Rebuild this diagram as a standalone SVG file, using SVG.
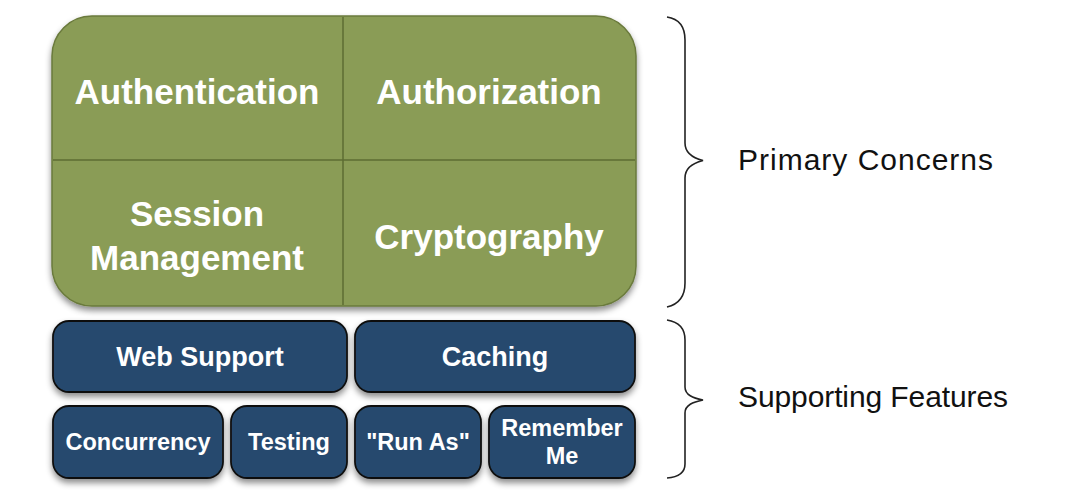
<svg xmlns="http://www.w3.org/2000/svg" width="1068" height="504" viewBox="0 0 1068 504">
<defs>
<filter id="sh" x="-10%" y="-10%" width="120%" height="130%">
<feDropShadow dx="0" dy="4" stdDeviation="3" flood-color="#000" flood-opacity="0.45"/>
</filter>
<style>
.g{fill:#8a9c56;stroke:#6a7a3c;stroke-width:1.5}
.div{stroke:#5c6d33;stroke-width:1.5;fill:none}
.b{fill:#274a6e;stroke:#111;stroke-width:1.8}
.t{font-family:"Liberation Sans",Arial,sans-serif;font-weight:bold;fill:#fff;text-anchor:middle}
.big{font-size:35px}
.mid{font-size:27px}
.sm{font-size:23.5px}
.lbl{font-family:"Liberation Sans",Arial,sans-serif;font-size:30px;fill:#111}
.br{fill:none;stroke:#222;stroke-width:1.6}
</style>
</defs>
<rect width="1068" height="504" fill="#fff"/>
<g id="primary">
<rect class="g" x="52" y="16" width="584" height="290" rx="40" ry="40" filter="url(#sh)"/>
<line class="div" x1="343" y1="17" x2="343" y2="305"/>
<line class="div" x1="53" y1="160" x2="635" y2="160"/>
</g>
<g id="authentication"><text class="t big" x="197" y="104">Authentication</text></g>
<g id="authorization"><text class="t big" x="489" y="104">Authorization</text></g>
<g id="session-management"><text class="t big" x="197" y="226">Session</text><text class="t big" x="197" y="270">Management</text></g>
<g id="cryptography"><text class="t big" x="489" y="249">Cryptography</text></g>
<g id="web-support"><rect class="b" x="53" y="321" width="294" height="71" rx="16" filter="url(#sh)"/><text class="t mid" x="200" y="366">Web Support</text></g>
<g id="caching"><rect class="b" x="355" y="321" width="280" height="71" rx="16" filter="url(#sh)"/><text class="t mid" x="495" y="366">Caching</text></g>
<g id="concurrency"><rect class="b" x="53" y="406" width="170" height="72" rx="16" filter="url(#sh)"/><text class="t sm" x="138" y="450">Concurrency</text></g>
<g id="testing"><rect class="b" x="231" y="406" width="116" height="72" rx="16" filter="url(#sh)"/><text class="t sm" x="289" y="450">Testing</text></g>
<g id="run-as"><rect class="b" x="355" y="406" width="126" height="72" rx="16" filter="url(#sh)"/><text class="t sm" x="418" y="450">"Run As"</text></g>
<g id="remember-me"><rect class="b" x="489" y="406" width="146" height="72" rx="16" filter="url(#sh)"/><text class="t sm" x="562" y="436">Remember</text><text class="t sm" x="562" y="464">Me</text></g>
<g id="connectors">
<path class="br" d="M667,17 C680,19 685,27 685,40 L685,143 C685,153 693,158 703,160.5 C693,163 685,168 685,178 L685,283 C685,296 680,304 667,307"/>
<path class="br" d="M667,320 C680,322 685,330 685,340 L685,387 C685,395 693,398 703,400 C693,402 685,405 685,413 L685,464 C685,472 680,477 667,478"/>
</g>
<g id="label-primary"><text class="lbl" x="738" y="170" textLength="255" lengthAdjust="spacing">Primary Concerns</text></g>
<g id="label-supporting"><text class="lbl" x="738" y="407" textLength="270" lengthAdjust="spacing">Supporting Features</text></g>
</svg>
